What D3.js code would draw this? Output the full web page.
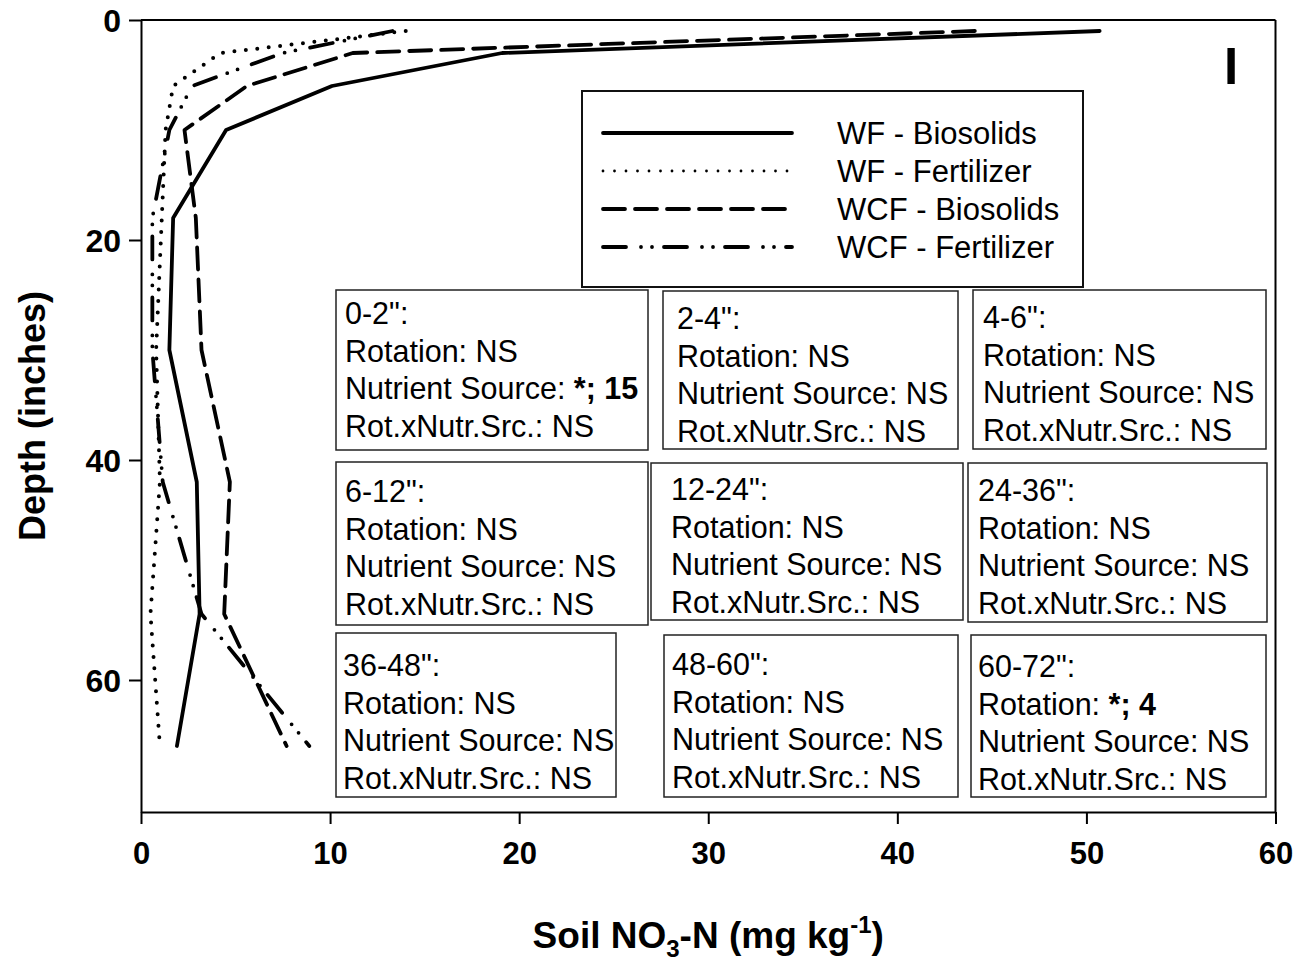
<!DOCTYPE html>
<html>
<head>
<meta charset="utf-8">
<script src="https://cdn.jsdelivr.net/npm/d3@7"></script>
<style>
  html, body { margin: 0; padding: 0; background: #fff; }
  svg { display: block; font-family: "Liberation Sans", Arial, sans-serif; }
</style>
</head>
<body>
<svg id="chart" width="1297" height="961"></svg>
<script>
// Soil nitrate profile: mean NO3-N at the midpoint of each sampled layer
const depths        = [1, 3, 6, 10, 18, 30, 42, 54, 66];
const wfBiosolids   = [50.7, 19.1, 10.1, 4.5, 1.7, 1.5, 2.95, 3.1, 1.9];
const wfFertilizer  = [14.0, 4.2, 1.7, 1.3, 1.1, 0.8, 1.0, 0.5, 1.0];
const wcfBiosolids  = [44.1, 11.2, 5.6, 2.3, 2.9, 3.2, 4.7, 4.4, 7.7];
const wcfFertilizer = [13.3, 7.5, 2.7, 1.5, 0.6, 0.6, 1.15, 3.2, 8.9];

const seriesNames = ["WF - Biosolids", "WF - Fertilizer", "WCF - Biosolids", "WCF - Fertilizer"];

const xTicks = [0, 10, 20, 30, 40, 50, 60];
const yTicks = [0, 20, 40, 60];

// ANOVA results per sampled layer
const layers        = ["0-2\"", "2-4\"", "4-6\"", "6-12\"", "12-24\"", "24-36\"", "36-48\"", "48-60\"", "60-72\""];
const rotation      = ["NS", "NS", "NS", "NS", "NS", "NS", "NS", "NS", "*; 4"];
const nutrientSrc   = ["*; 15", "NS", "NS", "NS", "NS", "NS", "NS", "NS", "NS"];
const interaction   = ["NS", "NS", "NS", "NS", "NS", "NS", "NS", "NS", "NS"];

// ---- layout ----
const plot = { left: 141, top: 20, right: 1275.5, bottom: 812 };

const svg = d3.select("#chart");

const x = d3.scaleLinear().domain([0, 60]).range([plot.left, plot.right]);
const y = d3.scaleLinear().domain([0, 72]).range([plot.top, plot.bottom]);

// line styles for the four treatments
const styles = [
  { dash: null,                     width: 3.8, cap: "round" },
  { dash: "0,11.5",                 width: 4,   cap: "round" },
  { dash: "22,10",                  width: 3.8, cap: "round" },
  { dash: "23,15,0,11,0,12",        width: 3.8, cap: "round" }
];

// ---- frame ----
svg.append("line").attr("x1", plot.left).attr("x2", plot.right)
  .attr("y1", plot.top).attr("y2", plot.top)
  .attr("stroke", "#000").attr("stroke-width", 2);
svg.append("line").attr("x1", plot.right).attr("x2", plot.right)
  .attr("y1", plot.top).attr("y2", plot.bottom)
  .attr("stroke", "#000").attr("stroke-width", 2);

// ---- axes ----
const gx = svg.append("g")
  .attr("transform", `translate(0,${plot.bottom})`)
  .call(d3.axisBottom(x).tickValues(xTicks).tickSize(12).tickSizeOuter(0).tickPadding(18));
const gy = svg.append("g")
  .attr("transform", `translate(${plot.left},0)`)
  .call(d3.axisLeft(y).tickValues(yTicks).tickSize(12).tickSizeOuter(0).tickPadding(8));

[gx, gy].forEach(g => {
  g.select(".domain").attr("stroke", "#000").attr("stroke-width", 2);
  g.selectAll(".tick line").attr("stroke", "#000").attr("stroke-width", 2);
  g.selectAll(".tick text")
    .attr("font-family", "'Liberation Sans', Arial, sans-serif")
    .attr("font-size", 31).attr("font-weight", "bold").attr("fill", "#000");
});
gy.selectAll(".tick text").attr("dy", "0.36em").attr("font-size", 32);

// axis titles
const xTitle = svg.append("text")
  .attr("x", (plot.left + plot.right) / 2).attr("y", 948)
  .attr("text-anchor", "middle")
  .attr("font-size", 37).attr("font-weight", "bold");
xTitle.append("tspan").text("Soil NO");
xTitle.append("tspan").attr("font-size", 24).attr("dy", 9).text("3");
xTitle.append("tspan").attr("dy", -9).text("-N (mg kg");
xTitle.append("tspan").attr("font-size", 24).attr("dy", -15).text("-1");
xTitle.append("tspan").attr("dy", 15).text(")");

svg.append("text")
  .attr("transform", `translate(45,${(plot.top + plot.bottom) / 2}) rotate(-90)`)
  .attr("text-anchor", "middle")
  .attr("font-size", 36).attr("font-weight", "bold")
  .text("Depth (inches)");

// ---- profiles ----
const seriesValues = [wfBiosolids, wfFertilizer, wcfBiosolids, wcfFertilizer];
const line = d3.line().x(d => x(d.v)).y(d => y(d.d));

seriesValues.forEach((vals, i) => {
  const pts = vals.map((v, k) => ({ v, d: depths[k] }));
  const st = styles[i];
  svg.append("path")
    .datum(pts)
    .attr("d", line)
    .attr("fill", "none")
    .attr("stroke", "#000")
    .attr("stroke-width", st.width)
    .attr("stroke-linecap", st.cap)
    .attr("stroke-linejoin", "round")
    .attr("stroke-dasharray", st.dash);
});

// panel marker
svg.append("text")
  .attr("x", 1231).attr("y", 83.5)
  .attr("text-anchor", "middle")
  .attr("font-size", 51).attr("font-weight", "bold")
  .text("I");

// ---- legend ----
const legend = { x: 582, y: 91, w: 501, h: 196, lineX1: 603, lineX2: 792, textX: 837, row0: 133, step: 38 };
svg.append("rect")
  .attr("x", legend.x).attr("y", legend.y).attr("width", legend.w).attr("height", legend.h)
  .attr("fill", "#fff").attr("stroke", "#111").attr("stroke-width", 2);
seriesNames.forEach((name, i) => {
  const yy = legend.row0 + i * legend.step;
  const st = styles[i];
  svg.append("line")
    .attr("x1", legend.lineX1).attr("x2", legend.lineX2)
    .attr("y1", yy).attr("y2", yy)
    .attr("stroke", "#000")
    .attr("stroke-width", i === 1 ? 2.8 : st.width)
    .attr("stroke-linecap", st.cap)
    .attr("stroke-dasharray", st.dash);
  svg.append("text")
    .attr("x", legend.textX).attr("y", yy + 11)
    .attr("font-size", 31)
    .text(name);
});

// ---- ANOVA boxes ----
const boxes = [
  { x: 336, y: 290, w: 312, h: 160, tx: 345, ty: 324 },
  { x: 663, y: 291, w: 295, h: 158, tx: 677, ty: 329 },
  { x: 973, y: 290, w: 293, h: 159, tx: 983, ty: 328 },
  { x: 336, y: 462, w: 312, h: 163, tx: 345, ty: 502 },
  { x: 651, y: 463, w: 312, h: 157, tx: 671, ty: 500 },
  { x: 968, y: 463, w: 299, h: 159, tx: 978, ty: 501 },
  { x: 336, y: 633, w: 280, h: 164, tx: 343, ty: 676 },
  { x: 664, y: 635, w: 294, h: 162, tx: 672, ty: 675 },
  { x: 971, y: 635, w: 295, h: 162, tx: 978, ty: 677 }
];
const lineStep = 37.5;

function addResult(t, label, value) {
  t.append("tspan").text(label + ": ");
  const sig = value !== "NS";
  t.append("tspan").attr("font-weight", sig ? "bold" : "normal").text(value);
}

layers.forEach((layer, i) => {
  const b = boxes[i];
  svg.append("rect")
    .attr("x", b.x).attr("y", b.y).attr("width", b.w).attr("height", b.h)
    .attr("fill", "#fff").attr("stroke", "#222").attr("stroke-width", 1.5);
  const g = svg.append("g").attr("font-size", 30.5);
  g.append("text").attr("x", b.tx).attr("y", b.ty).text(layer + ":");
  addResult(g.append("text").attr("x", b.tx).attr("y", b.ty + lineStep), "Rotation", rotation[i]);
  addResult(g.append("text").attr("x", b.tx).attr("y", b.ty + 2 * lineStep), "Nutrient Source", nutrientSrc[i]);
  addResult(g.append("text").attr("x", b.tx).attr("y", b.ty + 3 * lineStep), "Rot.xNutr.Src.", interaction[i]);
});
</script>
</body>
</html>
